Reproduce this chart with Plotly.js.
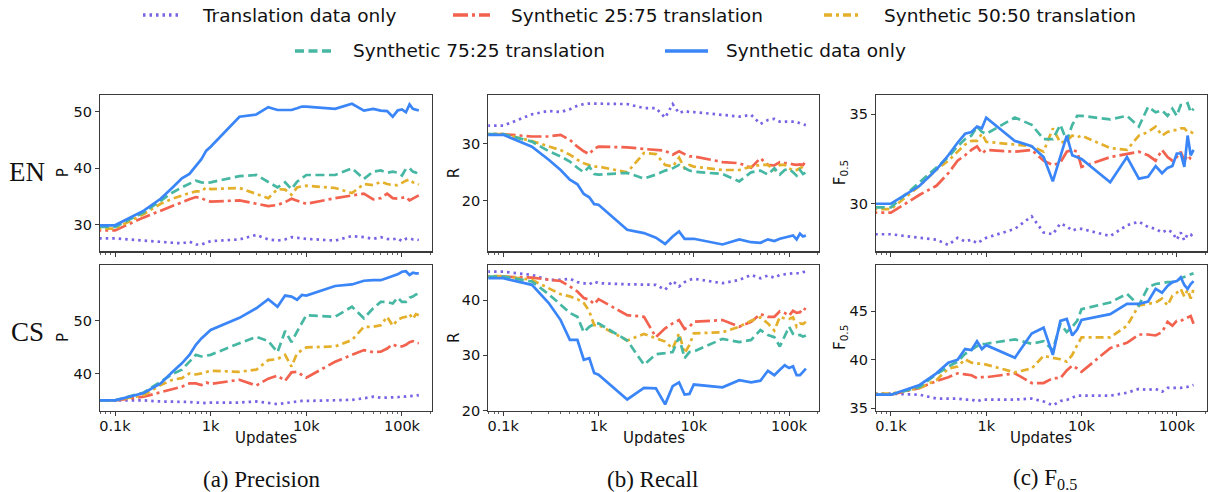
<!DOCTYPE html>
<html>
<head>
<meta charset="utf-8">
<script src="https://cdn.plot.ly/plotly-3.0.1.min.js"></script>
<style>html,body{margin:0;padding:0;background:#fff;}#chart{width:1208px;height:492px;}</style>
</head>
<body>
<div id="chart"></div>
<script>
// ---------- data ----------
const updates = [50,100,200,300,400,500,600,700,800,900,1000,2000,3000,4000,5000,6000,7000,8000,9000,10000,
  20000,30000,40000,50000,60000,70000,80000,90000,100000,110000,120000,130000,140000,150000];

const seriesNames = ['Translation data only','Synthetic 25:75 translation','Synthetic 50:50 translation',
  'Synthetic 75:25 translation','Synthetic data only'];

const xTickVals = [100,1000,10000,100000];
const xTickText = ['0.1k','1k','10k','100k'];
const xTitle = 'Updates';
const rowLabels = ['EN','CS'];
const captions = ['(a) Precision','(b) Recall','(c) F<sub>0.5</sub>'];
const metricTitles = ['P','R','F<sub>0.5</sub>'];

// Precision EN
const pEN_trans = [27.6,27.6,27.2,27.0,26.8,26.7,27.0,26.5,26.5,26.8,27.1,27.4,28.2,27.4,27.2,27.4,27.8,27.7,27.6,27.5,27.2,28.0,27.8,27.5,27.8,27.5,27.4,27.6,27.1,27.5,27.6,27.4,27.4,27.3];
const pEN_s25 = [29.0,29.0,31.3,32.5,33.4,34.0,34.5,34.9,34.7,34.3,34.1,34.3,33.7,33.3,33.5,34.0,34.6,34.3,33.9,33.7,34.7,35.2,35.5,34.5,34.7,35.5,34.7,34.6,34.7,34.9,34.3,34.6,34.9,35.2];
const pEN_s50 = [29.3,29.3,31.9,33.7,34.6,35.2,35.6,35.9,35.9,36.6,36.3,36.5,35.5,34.7,36.3,36.2,35.3,36.6,36.8,36.9,36.5,35.6,37.2,37.0,37.6,37.2,37.0,37.0,37.4,37.8,38.0,37.5,37.4,37.1];
const pEN_s75 = [29.6,29.6,32.2,34.3,35.7,36.6,37.2,37.8,37.5,37.4,37.5,38.6,38.8,37.5,36.6,37.5,36.3,37.6,38.3,38.8,38.8,40.0,38.1,39.4,39.6,39.2,39.4,39.2,38.7,39.9,40.0,39.4,39.2,39.9];
const pEN_syn = [29.9,29.9,32.5,34.6,36.6,38.2,39.0,40.4,41.6,43.1,43.8,49.1,49.5,50.8,50.3,50.3,50.3,50.6,50.9,50.9,50.5,51.4,50.2,50.5,50.2,50.1,49.1,50.2,50.4,49.9,51.3,50.5,50.4,50.2];

// Precision CS
const pCS_trans = [35.0,35.0,35.0,34.8,34.8,34.7,34.7,34.6,34.5,34.5,34.6,34.6,34.8,34.5,34.3,34.5,34.7,34.8,34.9,34.9,35.0,35.1,35.4,35.7,35.5,35.5,35.6,35.6,35.8,35.7,35.8,35.8,35.9,36.0];
const pCS_s25 = [35.0,35.0,35.7,36.5,37.2,37.6,38.2,38.2,37.9,38.4,38.1,38.9,37.8,39.1,39.7,38.7,40.3,40.4,39.8,39.3,42.3,43.6,44.5,44.1,44.2,44.8,45.6,45.2,45.2,45.5,46.0,46.2,45.9,45.8];
const pCS_s50 = [35.0,35.0,36.0,37.9,38.9,39.2,40.1,39.9,40.1,40.4,40.6,40.4,40.8,42.6,42.8,43.6,41.4,43.9,44.5,45.0,45.2,46.4,48.9,48.9,49.2,50.8,49.1,50.2,50.6,50.8,51.3,50.4,51.3,51.1];
const pCS_s75 = [35.0,35.0,36.5,38.6,40.0,40.8,42.3,43.6,43.3,43.5,43.6,45.8,47.0,46.2,44.1,48.1,46.0,48.0,49.5,51.1,50.8,52.7,50.5,52.4,53.6,53.6,53.3,54.4,53.6,53.6,54.4,54.6,55.0,55.2];
const pCS_syn = [35.0,35.0,36.4,38.2,40.4,42.0,43.6,45.5,46.7,47.5,48.3,50.6,52.4,54.1,52.7,54.8,54.6,54.0,54.9,54.8,56.6,56.9,57.6,57.7,57.7,58.1,58.4,58.8,59.3,59.4,58.7,59.1,59.0,59.0];

// Recall EN
const rEN_trans = [33.2,33.2,35.2,35.8,35.6,36.1,36.7,37.0,37.1,37.1,37.1,37.0,36.3,36.3,34.6,37.0,35.4,35.8,35.6,35.6,35.1,34.8,35.1,33.5,34.2,34.4,33.9,33.9,33.8,33.8,33.9,33.6,33.5,33.3];
const rEN_s25 = [31.7,31.7,31.3,31.3,31.6,30.7,29.5,28.7,28.2,29.2,29.5,29.4,29.1,28.9,28.8,28.1,28.7,28.2,27.8,27.8,26.8,26.6,25.8,27.5,26.3,26.2,26.8,26.6,26.6,26.4,26.3,26.4,26.3,26.9];
const rEN_s50 = [31.7,31.7,30.5,29.5,28.9,28.1,27.2,26.6,26.3,26.0,26.0,25.0,28.4,28.2,26.3,26.0,27.6,25.7,26.3,26.0,25.4,25.4,26.0,26.3,26.3,25.4,26.3,26.3,25.7,25.3,25.4,25.7,26.0,25.8];
const rEN_s75 = [31.7,31.7,30.4,28.7,27.8,26.9,25.8,25.0,26.0,24.7,24.6,24.9,23.9,24.6,25.3,25.7,26.3,25.8,25.3,25.1,24.7,23.4,25.0,25.3,24.6,25.7,24.6,25.4,25.6,25.0,24.4,25.4,24.7,25.0];
const rEN_syn = [31.6,31.6,29.5,27.2,25.4,23.7,22.9,21.2,20.6,19.4,19.3,14.9,14.3,13.5,12.4,13.7,14.6,13.3,13.3,13.3,12.3,13.2,12.7,12.6,13.2,12.9,13.3,13.5,13.7,13.9,13.2,14.2,13.7,13.9];

// Recall CS
const rCS_trans = [45.2,45.2,44.6,43.7,43.7,43.9,43.3,43.1,42.9,43.4,43.1,42.9,42.9,42.8,41.9,43.5,42.5,43.3,43.7,43.9,43.1,43.7,44.6,44.0,44.5,44.1,44.6,44.7,44.9,44.9,44.9,44.9,45.1,45.2];
const rCS_s25 = [44.3,44.3,44.1,43.7,43.5,42.5,41.6,40.4,40.1,39.3,40.2,37.3,37.0,33.3,34.9,35.8,36.4,34.8,35.2,36.1,36.4,35.2,36.1,37.5,37.0,37.0,38.0,37.7,37.2,38.1,37.7,37.8,38.6,38.3];
const rCS_s50 = [44.4,44.4,43.7,42.2,41.1,40.7,40.2,39.5,38.0,35.5,35.5,32.7,33.9,33.1,32.5,31.2,34.0,30.4,31.9,34.0,34.2,35.2,36.3,36.9,35.8,34.5,37.0,36.7,36.6,36.9,35.2,35.8,35.7,36.1];
const rCS_s75 = [44.3,44.3,43.4,41.1,39.2,37.7,37.0,34.2,35.2,35.7,35.8,32.7,28.3,30.2,30.4,30.6,33.3,29.5,30.6,30.7,33.0,32.4,32.8,34.6,33.7,33.3,31.6,33.4,35.2,33.9,33.6,33.7,33.4,33.6];
const rCS_syn = [44.0,44.0,42.8,39.5,36.4,32.8,32.8,29.2,29.5,26.8,26.5,22.0,24.1,24.0,21.1,24.4,25.1,22.9,23.0,24.7,24.2,25.5,25.1,25.4,27.2,26.4,27.4,28.2,27.7,28.0,26.4,26.4,27.0,27.6];

// F0.5 EN
const fEN_trans = [28.3,28.3,28.1,28.0,27.7,28.1,27.9,28.0,27.8,27.95,28.1,28.6,29.3,28.4,28.3,28.9,28.75,28.5,28.6,28.6,28.2,28.8,29.0,28.7,28.6,28.4,28.55,28.4,28.0,28.4,27.95,28.3,28.3,28.1];
const fEN_s25 = [29.5,29.5,30.5,31.0,31.7,32.4,32.7,33.0,33.2,32.8,33.0,32.9,33.0,32.4,32.15,32.3,32.9,33.0,32.9,32.05,32.6,32.8,32.9,32.7,32.4,33.0,32.6,32.4,32.6,32.9,32.4,32.7,32.5,32.4];
const fEN_s50 = [29.7,29.7,31.0,31.9,32.4,32.9,33.3,33.5,33.5,33.9,33.45,33.3,33.2,32.9,34.2,33.4,33.5,33.8,33.7,33.8,33.1,33.0,33.8,34.0,34.3,33.8,34.0,34.1,34.1,34.2,34.2,34.0,34.0,33.9];
const fEN_s75 = [29.8,29.8,31.2,32.0,32.6,33.2,33.6,33.8,34.3,34.0,33.9,34.8,34.4,33.6,33.6,34.4,33.5,34.4,34.9,34.9,34.7,34.9,34.3,35.4,35.1,35.2,34.9,35.3,34.9,35.5,35.5,35.6,35.1,35.3];
const fEN_syn = [30.0,30.0,31.0,31.9,32.7,33.4,33.9,34.0,34.3,34.2,34.8,33.5,33.2,32.6,31.25,32.7,33.8,32.7,32.6,32.5,31.2,32.6,31.4,31.5,32.1,31.7,32.0,32.1,32.8,32.8,32.05,33.8,32.7,33.0];

// F0.5 CS
const fCS_trans = [36.5,36.5,36.4,36.0,36.0,36.0,35.9,35.9,35.7,35.9,35.9,35.9,36.0,35.7,35.3,35.75,35.85,36.1,36.3,36.3,36.3,36.6,37.0,36.9,37.0,36.7,37.1,37.1,37.1,37.1,37.2,37.2,37.3,37.4];
const fCS_s25 = [36.4,36.4,37.1,37.8,38.2,38.6,38.5,38.4,38.1,38.2,38.2,38.6,37.6,37.6,38.1,38.1,38.9,39.4,39.1,38.75,41.2,41.75,42.6,42.6,42.5,42.85,43.9,43.5,44.0,44.0,44.2,44.4,44.5,43.7];
const fCS_s50 = [36.5,36.5,37.1,37.9,39.1,39.3,40.05,39.7,39.6,39.6,39.5,38.7,39.1,40.4,40.2,40.05,39.8,40.5,41.5,42.3,42.3,43.5,45.6,45.75,45.9,46.3,45.6,46.6,46.9,47.3,46.5,47.2,46.3,47.3];
const fCS_s75 = [36.4,36.4,37.2,38.5,39.3,39.8,40.6,41.0,41.4,41.6,41.65,42.1,41.65,41.9,41.0,43.7,42.85,43.4,44.0,45.2,45.9,46.8,45.6,47.5,47.8,47.9,48.0,48.0,48.1,48.4,48.5,48.65,48.8,48.9];
const fCS_syn = [36.4,36.4,37.4,38.6,39.7,40.0,41.1,41.0,41.9,41.1,41.5,40.2,42.7,43.3,40.5,44.0,44.2,42.5,43.1,44.1,44.7,45.75,45.75,46.0,47.3,46.9,47.6,48.0,48.1,48.5,47.7,47.3,47.8,48.1];

// ---------- styling ----------
const colors = ['#7764e4','#f2624e','#e4b02b','#46b7a2','#3a85f7'];
const dashes = ['2.5px,4px','15px,4px,3px,4px','8px,4px,3px,4px','9px,4.5px','solid'];
const LW = 2.7;

// panel order: top row a,b,c then bottom row a,b,c
const panels = [
  {series:[pEN_trans,pEN_s25,pEN_s50,pEN_s75,pEN_syn], yr:[25.3,52.95], yt:[30,40,50], col:0, row:0},
  {series:[rEN_trans,rEN_s25,rEN_s50,rEN_s75,rEN_syn], yr:[11.1,38.6], yt:[20,30], col:1, row:0},
  {series:[fEN_trans,fEN_s25,fEN_s50,fEN_s75,fEN_syn], yr:[27.35,36.06], yt:[30,35], col:2, row:0},
  {series:[pCS_trans,pCS_s25,pCS_s50,pCS_s75,pCS_syn], yr:[33.0,60.57], yt:[40,50], col:0, row:1},
  {series:[rCS_trans,rCS_s25,rCS_s50,rCS_s75,rCS_syn], yr:[19.9,46.4], yt:[20,30,40], col:1, row:1},
  {series:[fCS_trans,fCS_s25,fCS_s50,fCS_s75,fCS_syn], yr:[34.72,49.76], yt:[35,40,45], col:2, row:1}
];

const W = 1208, H = 492;
const colPx = [[100,432],[488.3,819],[876,1206.7]];
const rowPx = [[95,251.3],[265,411]];
const yTitlePx = [63, 454, 840];
const px2x = p => p / W;
const px2y = p => 1 - p / H;

const FONT = 'DejaVu Sans, sans-serif';
const SERIF = 'Liberation Serif, Times New Roman, serif';
const AX = '#3a3a3a';
const TXT = '#111';

function minorVals() {
  const v = [];
  for (let e = 1; e <= 5; e++) for (let d = 2; d <= 9; d++) v.push(d * Math.pow(10, e));
  return v;
}

const traces = [];
const layout = {
  width: W, height: H,
  margin: {l:0, r:0, t:0, b:0},
  paper_bgcolor: '#fff', plot_bgcolor: '#fff',
  showlegend: false,
  font: {family: FONT, size: 14.5, color: TXT},
  shapes: [], annotations: []
};

panels.forEach((pn, i) => {
  const k = i + 1;
  const xa = 'x' + (k === 1 ? '' : k), ya = 'y' + (k === 1 ? '' : k);
  pn.series.forEach((vals, s) => {
    traces.push({
      x: updates, y: vals, xaxis: xa, yaxis: ya, type: 'scatter', mode: 'lines',
      name: seriesNames[s], line: {color: colors[s], width: LW, dash: dashes[s]},
      hoverinfo: 'skip'
    });
  });
  const cp = colPx[pn.col], rp = rowPx[pn.row];
  layout['xaxis' + (k === 1 ? '' : k)] = {
    type: 'log', range: [1.843, 5.314], domain: [px2x(cp[0]), px2x(cp[1])],
    anchor: ya, tickmode: 'array', tickvals: xTickVals, ticktext: xTickText,
    showticklabels: pn.row === 1, ticks: 'outside', ticklen: 4, tickwidth: 1, tickcolor: AX,
    ticklabelstandoff: -3,
    minor: {ticks: 'outside', ticklen: 2, tickwidth: 0.8, tickcolor: AX, tickvals: minorVals()},
    showgrid: false, zeroline: false, showline: true, mirror: true, linecolor: AX, linewidth: 1.2,
    tickfont: {family: FONT, size: 14.5, color: TXT}
  };
  layout['yaxis' + (k === 1 ? '' : k)] = {
    range: pn.yr, domain: [px2y(rp[1]), px2y(rp[0])], anchor: xa,
    tickmode: 'array', tickvals: pn.yt, ticks: 'outside', ticklen: 4, tickwidth: 1, tickcolor: AX,
    showgrid: false, zeroline: false, showline: true, mirror: true, linecolor: AX, linewidth: 1.2,
    tickfont: {family: FONT, size: 14.5, color: TXT}
  };
  // y-axis title
  layout.annotations.push({text: metricTitles[pn.col], xref: 'paper', yref: 'paper',
    x: px2x(yTitlePx[pn.col]), y: px2y((rp[0] + rp[1]) / 2), textangle: -90,
    xanchor: 'center', yanchor: 'middle', showarrow: false, font: {family: FONT, size: 15, color: TXT}});
  // x-axis title (bottom row)
  if (pn.row === 1) {
    layout.annotations.push({text: xTitle, xref: 'paper', yref: 'paper',
      x: px2x((cp[0] + cp[1]) / 2), y: px2y(438), xanchor: 'center', yanchor: 'middle',
      showarrow: false, font: {family: FONT, size: 15, color: TXT}});
  }
});

// row labels
[172, 332].forEach((yp, r) => {
  layout.annotations.push({text: rowLabels[r], xref: 'paper', yref: 'paper', x: px2x(27.5), y: px2y(yp),
    xanchor: 'center', yanchor: 'middle', showarrow: false, font: {family: SERIF, size: 27, color: TXT}});
});
// captions
[261, 652, 1045].forEach((xp, c) => {
  layout.annotations.push({text: captions[c], xref: 'paper', yref: 'paper', x: px2x(xp), y: px2y(479),
    xanchor: 'center', yanchor: 'middle', showarrow: false, font: {family: SERIF, size: 23, color: TXT}});
});

// legend (two rows)
const legItems = [
  {s:0, x0:143, x1:181, tx:200, y:15},
  {s:1, x0:453, x1:490, tx:509, y:15},
  {s:2, x0:824, x1:862, tx:882, y:15},
  {s:3, x0:295, x1:332, tx:351, y:51},
  {s:4, x0:665, x1:708, tx:724, y:51}
];
legItems.forEach(it => {
  layout.shapes.push({type: 'line', xref: 'paper', yref: 'paper', x0: px2x(it.x0), x1: px2x(it.x1),
    y0: px2y(it.y), y1: px2y(it.y), line: {color: colors[it.s], width: 3.4, dash: dashes[it.s]}});
  layout.annotations.push({text: seriesNames[it.s], xref: 'paper', yref: 'paper', x: px2x(it.tx), y: px2y(it.y),
    xanchor: 'left', yanchor: 'middle', showarrow: false, font: {family: FONT, size: 18.5, color: TXT}});
});

Plotly.newPlot('chart', traces, layout, {staticPlot: true, displayModeBar: false});
</script>
</body>
</html>
